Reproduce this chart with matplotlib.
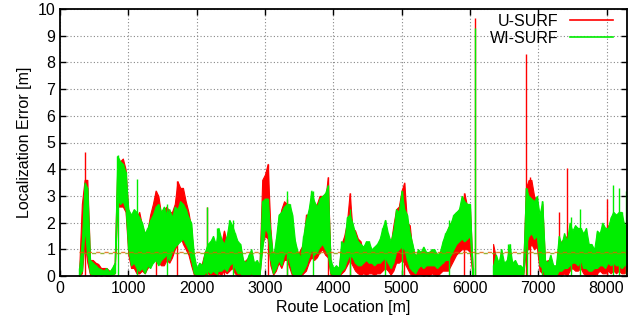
import numpy as np
import matplotlib
matplotlib.use("Agg")
import matplotlib.pyplot as plt

plt.rcParams['font.family'] = ['Liberation Sans', 'DejaVu Sans']

# Error envelopes (max / min within each 40 m bin)
# Segment A: route locations 280..6040 m; Segment B: 6340..8300 m
step = 40
seg_a_start, seg_a_stop = 280, 6040
seg_b_start, seg_b_stop = 6340, 8300

wi_hi_a = [
    0.3, 1.3, 3.5, 3.3, 0.6, 0.5, 0.4, 0.3, 0.25, 0.2,
    0.3, 0.15, 0.3, 0.5, 4.5, 4.3, 4.2, 3.9, 2.5, 2.3,
    2.5, 2.4, 2.2, 2.0, 1.6, 1.8, 2.1, 2.3, 2.6, 2.7,
    2.4, 2.6, 2.3, 2.5, 2.2, 2.6, 2.5, 2.8, 2.7, 2.5,
    2.2, 2.0, 0.8, 0.3, 0.5, 0.4, 0.9, 1.2, 1.3, 1.5,
    1.2, 1.8, 1.4, 1.2, 1.5, 2.1, 1.9, 1.6, 1.3, 1.2,
    0.6, 0.5, 0.8, 1.0, 0.5, 0.6, 0.4, 2.8, 2.9, 2.9,
    1.6, 0.7, 1.4, 2.3, 2.4, 2.6, 2.7, 2.7, 2.3, 1.3,
    0.9, 0.7, 1.5, 2.1, 2.5, 3.2, 2.8, 2.6, 2.9, 3.0,
    3.1, 3.4, 0.6, 0.3, 0.4, 0.3, 1.3, 1.2, 2.2, 2.3,
    2.0, 1.6, 1.3, 1.2, 1.1, 1.3, 1.3, 1.0, 1.1, 1.2,
    1.4, 1.8, 2.1, 1.6, 1.3, 1.7, 2.5, 2.4, 3.2, 2.5,
    2.3, 1.6, 1.2, 0.7, 1.0, 0.9, 1.1, 0.9, 0.9, 1.0,
    1.0, 0.8, 0.9, 1.3, 1.6, 1.8, 2.0, 2.3, 2.4, 2.5,
    3.0, 2.8, 2.7, 2.7, 0.3,
]
wi_lo_a = [
    0.0, 0.2, 1.8, 0.8, 0.1, 0.05, 0.05, 0.05, 0.05, 0.05,
    0.05, 0.0, 0.05, 0.1, 2.9, 2.7, 2.8, 2.5, 1.0, 0.4,
    0.5, 0.3, 0.2, 0.3, 0.1, 0.4, 0.3, 0.5, 0.6, 0.4,
    0.6, 0.7, 0.8, 0.6, 0.9, 1.1, 1.2, 1.3, 1.4, 1.2,
    1.0, 0.6, 0.1, 0.05, 0.05, 0.0, 0.1, 0.2, 0.1, 0.2,
    0.1, 0.2, 0.2, 0.3, 0.2, 0.4, 0.5, 0.3, 0.1, 0.1,
    0.0, 0.05, 0.05, 0.1, 0.0, 0.05, 0.0, 1.0, 1.8, 1.6,
    0.6, 0.1, 0.3, 0.6, 0.4, 0.8, 0.9, 0.5, 0.1, 0.0,
    0.0, 0.05, 0.2, 0.4, 0.7, 1.0, 0.8, 0.9, 1.1, 1.2,
    1.0, 0.8, 0.1, 0.05, 0.05, 0.0, 0.2, 0.3, 0.6, 0.8,
    0.7, 0.5, 0.4, 0.4, 0.5, 0.6, 0.5, 0.5, 0.4, 0.5,
    0.5, 0.6, 0.7, 0.5, 0.3, 0.5, 0.9, 1.0, 1.1, 1.0,
    0.6, 0.3, 0.2, 0.1, 0.3, 0.4, 0.3, 0.4, 0.4, 0.4,
    0.4, 0.3, 0.4, 0.5, 0.6, 0.6, 0.8, 1.0, 1.2, 1.3,
    1.4, 1.3, 1.4, 1.5, 0.0,
]
u_hi_a = [
    0.2, 2.7, 3.6, 3.6, 0.6, 0.6, 0.5, 0.45, 0.3, 0.3,
    0.3, 0.2, 0.2, 0.5, 4.2, 4.3, 4.4, 4.0, 2.4, 2.2,
    2.3, 2.2, 2.4, 1.9, 1.6, 1.7, 2.3, 2.7, 3.2, 3.0,
    2.3, 2.5, 2.6, 2.4, 2.4, 2.7, 3.55, 3.3, 3.3, 2.8,
    2.4, 1.8, 0.5, 0.3, 0.3, 0.5, 0.9, 1.0, 1.1, 1.2,
    0.9, 1.5, 1.2, 1.7, 1.3, 1.3, 1.4, 1.0, 1.1, 1.1,
    0.5, 0.6, 0.7, 0.9, 0.4, 0.5, 0.3, 3.6, 3.8, 4.2,
    1.8, 0.5, 1.0, 2.0, 2.5, 2.8, 2.7, 2.6, 1.8, 1.2,
    0.8, 1.0, 1.2, 2.3, 2.3, 2.4, 2.6, 2.7, 3.0, 3.0,
    2.8, 3.7, 0.5, 0.2, 0.3, 0.2, 1.2, 1.5, 2.0, 3.1,
    1.8, 1.7, 1.4, 1.3, 0.8, 0.7, 0.9, 0.9, 0.8, 0.8,
    1.0, 1.6, 1.8, 1.4, 1.2, 1.9, 2.5, 2.6, 3.2, 3.5,
    2.0, 1.9, 0.9, 0.8, 0.7, 0.6, 0.7, 0.7, 0.8, 0.9,
    0.7, 0.6, 0.8, 0.8, 1.2, 1.8, 2.0, 2.0, 2.2, 2.5,
    2.6, 3.1, 2.6, 2.6, 0.3,
]
u_lo_a = [
    0.0, 0.1, 1.3, 0.5, 0.05, 0.05, 0.0, 0.05, 0.0, 0.05,
    0.0, 0.0, 0.05, 0.1, 2.6, 2.6, 2.6, 2.4, 0.8, 0.3,
    0.3, 0.1, 0.1, 0.2, 0.1, 0.3, 0.4, 0.6, 0.7, 0.5,
    0.4, 0.4, 0.6, 0.5, 0.7, 1.0, 1.2, 1.5, 1.2, 1.0,
    0.8, 0.4, 0.05, 0.0, 0.0, 0.0, 0.05, 0.1, 0.05, 0.05,
    0.0, 0.1, 0.05, 0.2, 0.1, 0.2, 0.3, 0.1, 0.0, 0.0,
    0.0, 0.0, 0.0, 0.05, 0.0, 0.0, 0.0, 1.2, 1.5, 1.4,
    0.4, 0.05, 0.2, 0.5, 0.3, 0.6, 0.6, 0.3, 0.0, 0.0,
    0.0, 0.0, 0.1, 0.2, 0.5, 0.7, 0.6, 0.7, 0.9, 1.0,
    0.8, 0.7, 0.05, 0.0, 0.0, 0.0, 0.1, 0.2, 0.4, 0.6,
    0.4, 0.2, 0.1, 0.05, 0.1, 0.05, 0.1, 0.1, 0.05, 0.1,
    0.1, 0.2, 0.3, 0.2, 0.05, 0.2, 0.5, 0.5, 0.6, 0.5,
    0.3, 0.1, 0.0, 0.0, 0.05, 0.05, 0.0, 0.05, 0.0, 0.1,
    0.05, 0.0, 0.1, 0.2, 0.2, 0.2, 0.4, 0.6, 0.8, 0.9,
    1.0, 1.0, 1.0, 0.9, 0.0,
]
wi_hi_b = [
    0.4, 0.8, 0.5, 1.0, 0.5, 0.6, 1.2, 0.5, 0.6, 0.4,
    0.4, 0.3, 3.3, 3.0, 2.9, 2.8, 3.0, 2.3, 2.8, 0.6,
    0.5, 0.8, 0.4, 0.4, 1.5, 1.2, 1.6, 1.3, 2.0, 1.7,
    1.9, 1.8, 1.8, 1.6, 1.8, 1.2, 1.2, 1.0, 1.7, 1.6,
    2.0, 1.8, 1.8, 2.2, 2.4, 2.3, 2.4, 2.4, 1.9, 2.0,
]
wi_lo_b = [
    0.05, 0.05, 0.0, 0.05, 0.0, 0.05, 0.05, 0.0, 0.05, 0.0,
    0.0, 0.05, 1.2, 1.5, 1.6, 1.4, 1.5, 0.4, 0.3, 0.0,
    0.0, 0.05, 0.0, 0.0, 0.2, 0.2, 0.3, 0.3, 0.4, 0.5,
    0.5, 0.4, 0.6, 0.3, 0.3, 0.2, 0.2, 0.3, 0.3, 0.4,
    0.4, 0.3, 0.5, 0.4, 0.5, 0.4, 0.4, 0.3, 0.4, 0.5,
]
u_hi_b = [
    1.2, 0.7, 0.4, 0.6, 0.4, 0.5, 0.9, 0.4, 0.4, 0.3,
    0.3, 0.3, 3.3, 3.6, 3.6, 3.0, 2.8, 2.0, 2.7, 0.5,
    0.6, 0.5, 0.4, 0.3, 1.2, 1.3, 1.4, 1.5, 1.6, 1.5,
    1.3, 1.5, 1.6, 1.2, 1.1, 0.9, 0.9, 0.9, 1.0, 1.2,
    1.5, 1.7, 1.9, 1.7, 1.8, 1.6, 1.5, 1.4, 1.3, 1.2,
]
u_lo_b = [
    0.0, 0.0, 0.0, 0.0, 0.0, 0.0, 0.0, 0.0, 0.0, 0.0,
    0.0, 0.0, 1.0, 1.0, 1.2, 1.0, 1.1, 0.2, 0.1, 0.0,
    0.0, 0.0, 0.0, 0.0, 0.05, 0.0, 0.1, 0.0, 0.2, 0.3,
    0.2, 0.2, 0.3, 0.1, 0.0, 0.0, 0.05, 0.0, 0.1, 0.2,
    0.1, 0.1, 0.2, 0.1, 0.2, 0.1, 0.2, 0.1, 0.1, 0.2,
]

# Isolated narrow peaks (route location [m], error [m])
u_spike_x = [366, 1400, 1720, 2145, 2400, 3040, 3330, 3930, 4250, 5040,
             5920, 6072, 6815, 6880, 7300, 7425, 7860, 8000]
u_spike_y = [4.65, 3.2, 3.55, 2.6, 1.7, 4.2, 2.9, 3.7, 3.1, 3.5,
             3.1, 9.65, 8.3, 3.7, 2.4, 4.05, 1.6, 2.9]
wi_spike_x = [850, 1125, 1560, 2150, 2300, 2530, 3320, 3700, 4250, 4760,
              5000, 5700, 6076, 6460, 6560, 6830, 7060, 7480, 7615, 8095,
              8185, 8290]
wi_spike_y = [4.55, 3.65, 2.7, 2.6, 1.8, 2.1, 3.2, 3.2, 2.5, 2.1,
              3.2, 2.1, 9.3, 1.0, 1.2, 3.3, 2.8, 2.2, 2.5, 3.4,
              3.3, 3.2]

u_surf_mean = 0.90
wi_surf_mean = 0.87

xa = np.arange(seg_a_start, seg_a_stop + 1, step)
xb = np.arange(seg_b_start, seg_b_stop + 1, step)

fig = plt.figure(figsize=(6.29, 3.29), dpi=100)
ax = fig.add_axes([60/629, 53/329, 567/629, 267/329])

red = '#ff0000'
green = '#00ee00'

for xs, lo, hi in [(xa, u_lo_a, u_hi_a), (xb, u_lo_b, u_hi_b)]:
    ax.fill_between(xs, lo, hi, color=red, lw=0.8, edgecolor=red, zorder=3)
ax.vlines(u_spike_x, 0, u_spike_y, color=red, lw=1.0, zorder=3)
for xs, lo, hi in [(xa, wi_lo_a, wi_hi_a), (xb, wi_lo_b, wi_hi_b)]:
    ax.fill_between(xs, lo, hi, color=green, lw=0.8, edgecolor=green, zorder=4)
    ax.vlines(xs, lo, hi, color=green, lw=1.0, zorder=4)
ax.vlines(wi_spike_x, 0, wi_spike_y, color=green, lw=1.0, zorder=4)

ax.plot([], [], color=red, lw=1.2, label='U-SURF')
ax.plot([], [], color=green, lw=1.2, label='WI-SURF')

ax.plot([seg_a_start, seg_b_stop], [u_surf_mean]*2, color='#e06000', lw=1.0,
        ls=(0, (3, 3)), alpha=0.8, zorder=5)
ax.plot([seg_a_start, seg_b_stop], [wi_surf_mean]*2, color='#80a000', lw=1.0,
        ls=(3, (3, 3)), alpha=0.8, zorder=5)

ax.set_xlim(0, 8300)
ax.set_ylim(0, 10)
ax.set_xticks(range(0, 8001, 1000))
ax.set_yticks(range(0, 11, 1))
ax.grid(True, color='#888888', ls=(0, (1, 2)), lw=0.8)
ax.set_axisbelow(True)
for s in ax.spines.values():
    s.set_linewidth(1.3)
    s.set_zorder(6)
ax.tick_params(direction='in', length=4, width=1, labelsize=11.5, top=True, right=True)
ax.set_xlabel('Route Location [m]', fontsize=11.5, labelpad=3)
ax.set_ylabel('Localization Error [m]', fontsize=11.5, labelpad=4)

ax.legend(loc='upper right', frameon=False, markerfirst=False, fontsize=11.5,
          handlelength=2.7, handletextpad=0.75, borderaxespad=0.0,
          labelspacing=0.1, bbox_to_anchor=(0.987, 1.005))

fig.savefig('out.png', dpi=100)
